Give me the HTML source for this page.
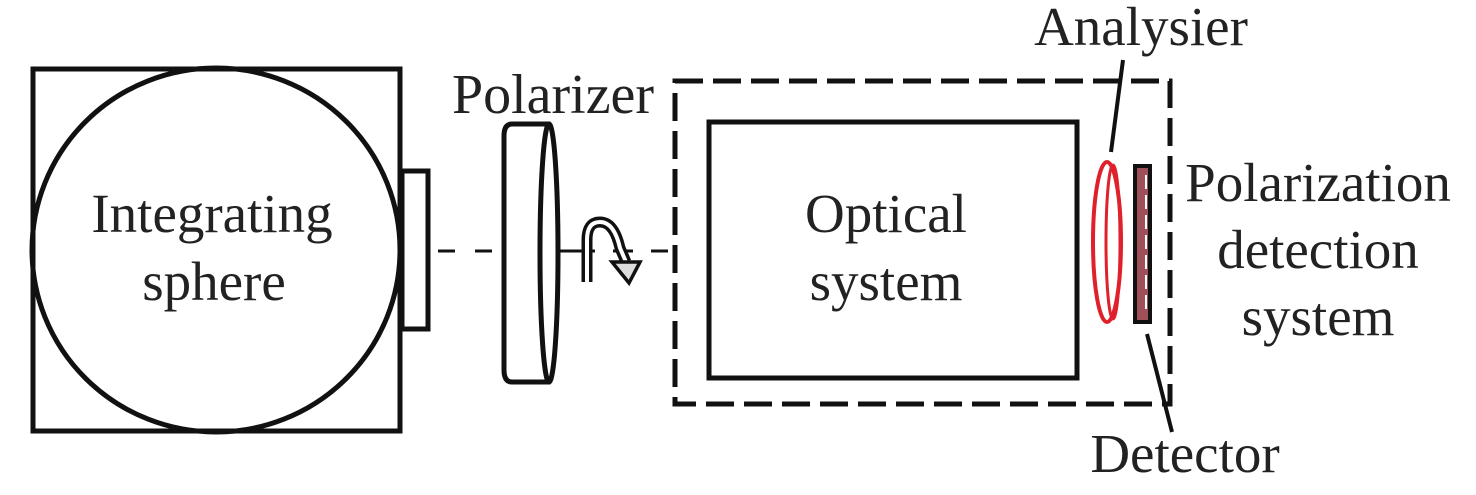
<!DOCTYPE html>
<html><head><style>
html,body{margin:0;padding:0;background:#fff;}
svg text{font-family:"Liberation Serif","DejaVu Serif","Times New Roman",Times,serif;fill:#222;}
</style></head><body>
<svg width="1476" height="490" viewBox="0 0 1476 490" xmlns="http://www.w3.org/2000/svg" font-family="Liberation Serif, DejaVu Serif, serif">
<rect x="33" y="69" width="367" height="362" fill="none" stroke="#111" stroke-width="5"/>
<ellipse cx="216" cy="250" rx="184" ry="182" fill="none" stroke="#111" stroke-width="5"/>
<rect x="402" y="171" width="26" height="158" fill="none" stroke="#111" stroke-width="5"/>
<text x="212" y="232" font-size="55" text-anchor="middle">Integrating</text>
<text x="214" y="300" font-size="55" text-anchor="middle">sphere</text>
<line x1="438" y1="251" x2="505" y2="251" stroke="#111" stroke-width="3" stroke-dasharray="17,20"/>
<line x1="555" y1="251" x2="668" y2="251" stroke="#111" stroke-width="3" stroke-dasharray="40,18,20,18"/>
<path d="M512,124 L548,124 L548,382 L512,382 Q504,382 504,370 L504,136 Q504,124 512,124 Z" fill="#fff" stroke="#111" stroke-width="5"/>
<ellipse cx="549" cy="253" rx="9" ry="129" fill="#fff" stroke="#111" stroke-width="5"/>
<text x="553" y="113" font-size="56" text-anchor="middle">Polarizer</text>
<path d="M587,282 L587,240 Q587,222 600,222 Q614,222 620,248 L626,262" fill="none" stroke="#111" stroke-width="11"/>
<path d="M587,282 L587,240 Q587,222 600,222 Q614,222 620,248 L626,262" fill="none" stroke="#fff" stroke-width="4"/>
<path d="M612,262 L640,262 L629,283 Z" fill="#ddd" stroke="#111" stroke-width="3.5"/>
<rect x="675" y="81" width="495" height="323" fill="none" stroke="#111" stroke-width="5" stroke-dasharray="28,10"/>
<rect x="709" y="122" width="368" height="256" fill="none" stroke="#111" stroke-width="5"/>
<text x="886" y="232" font-size="55" text-anchor="middle">Optical</text>
<text x="886" y="300" font-size="55" text-anchor="middle">system</text>
<ellipse cx="1107" cy="242" rx="14" ry="80" fill="none" stroke="#e0202a" stroke-width="4"/>
<ellipse cx="1113" cy="242" rx="7" ry="77" fill="none" stroke="#e0202a" stroke-width="3"/>
<rect x="1135" y="166" width="15" height="156" fill="#a05058" stroke="#111" stroke-width="4"/>
<line x1="1146" y1="175" x2="1146" y2="315" stroke="#fff" stroke-width="2" stroke-dasharray="14,6"/>
<line x1="1123" y1="60" x2="1111" y2="152" stroke="#111" stroke-width="4"/>
<line x1="1147" y1="334" x2="1172" y2="432" stroke="#111" stroke-width="4"/>
<text x="1141" y="45" font-size="55" text-anchor="middle">Analysier</text>
<text x="1185" y="472" font-size="55" text-anchor="middle">Detector</text>
<text x="1318" y="201" font-size="55" text-anchor="middle">Polarization</text>
<text x="1318" y="268" font-size="55" text-anchor="middle">detection</text>
<text x="1318" y="335" font-size="55" text-anchor="middle">system</text>
</svg>
</body></html>
